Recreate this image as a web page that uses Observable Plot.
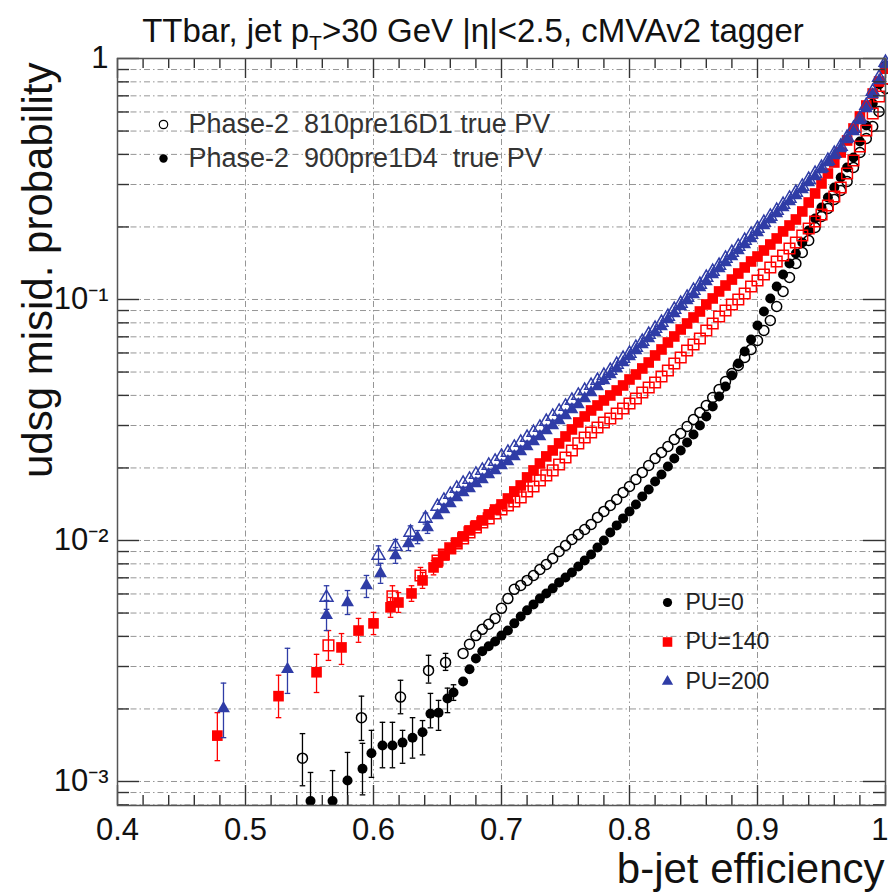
<!DOCTYPE html>
<html><head><meta charset="utf-8">
<script src="https://cdn.jsdelivr.net/npm/d3@7"></script>
<script src="https://cdn.jsdelivr.net/npm/@observablehq/plot@0.6"></script>
<style>html,body{margin:0;padding:0;background:#fff}svg{display:block}</style>
</head><body><div id="chart"></div>
<script>
// ---------- tick values / labels ----------
const xMajor = [0.4, 0.5, 0.6, 0.7, 0.8, 0.9, 1.0];
const xMinor = [0.42,0.44,0.46,0.48,0.52,0.54,0.56,0.58,0.62,0.64,0.66,0.68,0.72,0.74,0.76,0.78,0.82,0.84,0.86,0.88,0.92,0.94,0.96,0.98];
const xGrid = [0.5, 0.6, 0.7, 0.8, 0.9];
const yMajor = [0.001, 0.01, 0.1, 1];
const yMinor = [0.0008,0.0009,0.002,0.003,0.004,0.005,0.006,0.007,0.008,0.009,0.02,0.03,0.04,0.05,0.06,0.07,0.08,0.09,0.2,0.3,0.4,0.5,0.6,0.7,0.8,0.9];
const titleParts = ["TTbar, jet p", "T", ">30 GeV |\u03b7|<2.5, cMVAv2 tagger"];
const xLabel = "b-jet efficiency";
const yLabel = "udsg misid. probability";
const releaseLabels = ["Phase-2\u00a0 810pre16D1 true PV", "Phase-2\u00a0 900pre1D4\u00a0 true PV"];
const pileupLabels = ["PU=0", "PU=140", "PU=200"];

// ---------- dense part of the curves (b-jet efficiency) ----------
const effA = [0.650,0.655,0.660,0.665,0.670,0.675,0.680,0.685,0.690,0.695,0.700,0.705,0.710,0.715,0.720,0.725,0.730,0.735,0.740,0.745,0.750,0.755,0.760,0.765,0.770,0.775,0.780,0.785,0.790,0.795,0.800,0.805,0.810,0.815,0.820,0.825,0.830,0.835,0.840,0.845,0.850,0.855,0.860,0.865,0.870,0.875,0.880,0.885,0.890,0.895,0.900,0.905,0.910,0.915,0.920,0.925,0.930,0.935,0.940,0.945,0.950,0.955,0.960,0.965,0.970,0.975,0.980,0.985,0.990,0.995,1.000];
const effB = [0.670,0.675,0.680,0.685,0.690,0.695,0.700,0.705,0.710,0.715,0.720,0.725,0.730,0.735,0.740,0.745,0.750,0.755,0.760,0.765,0.770,0.775,0.780,0.785,0.790,0.795,0.800,0.805,0.810,0.815,0.820,0.825,0.830,0.835,0.840,0.845,0.850,0.855,0.860,0.865,0.870,0.875,0.880,0.885,0.890,0.895,0.900,0.905,0.910,0.915,0.920,0.925,0.930,0.935,0.940,0.945,0.950,0.955,0.960,0.965,0.970,0.975,0.980,0.985,0.990,0.995,1.000];

// PU=200 (blue triangles)
const pu200FilledMisid = [0.01271,0.01345,0.01425,0.01509,0.01583,0.01645,0.01725,0.01792,0.01880,0.01953,0.02048,0.02128,0.02233,0.02342,0.02456,0.02576,0.02702,0.02861,0.03001,0.03148,0.03303,0.03497,0.03668,0.03885,0.04114,0.04357,0.04613,0.04885,0.05174,0.05478,0.05802,0.06144,0.06507,0.0689,0.07296,0.07728,0.08262,0.08749,0.09354,0.09905,0.1049,0.1122,0.1188,0.1270,0.1345,0.1425,0.1508,0.1597,0.1691,0.1792,0.1897,0.2028,0.2148,0.2275,0.2409,0.2551,0.2702,0.2861,0.3059,0.3239,0.3463,0.3703,0.3959,0.4232,0.4613,0.4979,0.5530,0.6202,0.7090,0.8103,0.9444];
const pu200OpenMisid = [0.01384,0.01466,0.01553,0.01645,0.01725,0.01792,0.01880,0.01953,0.02048,0.02128,0.02233,0.02319,0.02433,0.02552,0.02676,0.02807,0.02945,0.03118,0.03271,0.03431,0.03599,0.03811,0.03998,0.04193,0.04398,0.04613,0.04838,0.05075,0.05375,0.05692,0.05971,0.06323,0.06696,0.07159,0.07582,0.08028,0.08502,0.0909,0.09626,0.1020,0.1090,0.1154,0.1234,0.1306,0.1384,0.1480,0.1567,0.1659,0.1757,0.1862,0.1971,0.2087,0.2211,0.2341,0.2479,0.2626,0.2780,0.2945,0.3148,0.3333,0.3530,0.3774,0.4035,0.4314,0.4702,0.5124,0.5637,0.6382,0.7295,0.8342,0.9626];
// PU=140 (red squares)
const pu140FilledMisid = [0.0081,0.00867,0.00927,0.00981,0.0104,0.01101,0.01155,0.01211,0.01283,0.01345,0.01411,0.01494,0.01598,0.01692,0.01827,0.01953,0.02087,0.02233,0.02364,0.02528,0.02702,0.02889,0.03089,0.03271,0.03464,0.03633,0.03811,0.03998,0.04193,0.04398,0.04657,0.04885,0.05174,0.05478,0.05858,0.06204,0.06632,0.07024,0.0751,0.07952,0.08421,0.08918,0.09535,0.101,0.108,0.1143,0.121,0.1282,0.1358,0.1438,0.1508,0.1597,0.1691,0.1792,0.1916,0.2028,0.2148,0.2319,0.2526,0.2754,0.303,0.3333,0.3703,0.4074,0.4568,0.5124,0.5746,0.6382,0.7157,0.8026,0.909];
const pu140OpenMisid = [0.00826,0.00875,0.00927,0.00972,0.0102,0.0108,0.01133,0.01188,0.01235,0.01295,0.01345,0.01398,0.01452,0.01509,0.01598,0.01676,0.01775,0.01862,0.01953,0.02068,0.02211,0.02364,0.02528,0.02676,0.02807,0.02945,0.03089,0.03209,0.03366,0.03531,0.03704,0.03885,0.04114,0.04315,0.04526,0.04793,0.05075,0.05427,0.05747,0.06144,0.06507,0.0689,0.07437,0.07952,0.08502,0.09003,0.09535,0.1,0.1059,0.1132,0.1199,0.127,0.1358,0.1438,0.1523,0.1628,0.1724,0.1844,0.1971,0.2107,0.2253,0.2455,0.2676,0.2917,0.3333,0.3774,0.4314,0.5027,0.5912,0.6956,0.8262];
// PU=0 (black circles)
const pu0FilledMisid = [0.0026,0.00292,0.00324,0.00347,0.00364,0.00381,0.00403,0.00423,0.00453,0.00484,0.00513,0.00543,0.00574,0.00603,0.00633,0.0067,0.00702,0.00737,0.0078,0.00826,0.00875,0.00935,0.01,0.0108,0.01155,0.01235,0.0132,0.01411,0.01523,0.01629,0.01758,0.0188,0.02029,0.0219,0.02364,0.02552,0.02754,0.03001,0.03271,0.03599,0.0396,0.04357,0.04838,0.05427,0.06086,0.06825,0.07802,0.08918,0.101,0.1132,0.127,0.1411,0.1552,0.1724,0.1934,0.2169,0.2409,0.2651,0.2917,0.3208,0.353,0.3884,0.4525,0.5272,0.6505,0.78,0.9354];
const pu0OpenMisid = [0.0034,0.00371,0.00403,0.00428,0.00449,0.00475,0.00523,0.00574,0.00627,0.00651,0.00683,0.00716,0.00758,0.00795,0.00842,0.009,0.00953,0.0101,0.0106,0.01111,0.01166,0.01247,0.0132,0.01398,0.0148,0.01583,0.01676,0.01792,0.01916,0.02048,0.0219,0.02319,0.02456,0.02626,0.0278,0.02973,0.03179,0.03399,0.03633,0.03922,0.04233,0.04569,0.04932,0.05324,0.05747,0.06204,0.0676,0.07437,0.08183,0.09354,0.108,0.1234,0.1411,0.1567,0.1757,0.199,0.2211,0.2386,0.2601,0.2834,0.3088,0.353,0.4074,0.4657,0.5223,0.6026,0.7507];

// ---------- low-efficiency points with visible error bars ----------
const pu200FilledLowEff = [0.4828,0.5328,0.5633,0.5797,0.5945,0.6055,0.6172,0.6273,0.6344,0.6422];
const pu200FilledLowMisid = [0.00201,0.00292,0.00489,0.00553,0.00651,0.0073,0.00867,0.00972,0.0103,0.01133];
const pu200FilledLowErrLo = [0.00152,0.00232,0.00423,0.00493,0.0058,0.00664,0.00804,0.00908,0.0097,0.0107];
const pu200FilledLowErrHi = [0.00256,0.00357,0.00564,0.0062,0.00716,0.00804,0.00935,0.0104,0.011,0.012];
const pu200OpenLowEff = [0.5633,0.6039,0.6172,0.6289,0.6406];
const pu200OpenLowMisid = [0.0058,0.00867,0.00944,0.0108,0.01235];
const pu200OpenLowErrLo = [0.00518,0.0079,0.0088,0.0101,0.0117];
const pu200OpenLowErrHi = [0.00649,0.0095,0.0101,0.0115,0.013];

const pu140FilledLowEff = [0.478,0.5258,0.5555,0.575,0.5883,0.600,0.6133,0.6195,0.6297,0.6383,0.6469];
const pu140FilledLowMisid = [0.00155,0.00226,0.00284,0.0036,0.00423,0.00453,0.00528,0.00553,0.00603,0.00683,0.00773];
const pu140FilledLowErrLo = [0.00122,0.00184,0.00234,0.00306,0.00378,0.00407,0.0048,0.00503,0.00559,0.00633,0.0072];
const pu140FilledLowErrHi = [0.00193,0.00276,0.00337,0.00411,0.00475,0.00503,0.0058,0.00608,0.00649,0.00737,0.00826];
const pu140OpenLowEff = [0.5648,0.6148,0.6367];
const pu140OpenLowMisid = [0.00367,0.00586,0.00716];
const pu140OpenLowErrLo = [0.00318,0.00528,0.00664];
const pu140OpenLowErrHi = [0.00423,0.00649,0.00773];

const pu0FilledLowEff = [0.5508,0.568,0.5797,0.5914,0.5984,0.607,0.6148,0.6227,0.6305,0.6383,0.6445,0.6508,0.6578,0.6625];
const pu0FilledLowMisid = [0.00083,0.00083,0.00101,0.00113,0.00131,0.00141,0.00141,0.00145,0.00152,0.0016,0.00191,0.00193,0.00221,0.00234];
const pu0FilledLowErrLo = [0.0006,0.0006,0.00077,0.00088,0.00104,0.00114,0.00114,0.00119,0.00125,0.00129,0.00167,0.00163,0.00193,0.00217];
const pu0FilledLowErrHi = [0.00109,0.00111,0.00132,0.00144,0.00163,0.00176,0.00176,0.00163,0.00184,0.00179,0.00232,0.00217,0.00244,0.00252];
const pu0OpenLowEff = [0.5445,0.5906,0.6211,0.643,0.6563];
const pu0OpenLowMisid = [0.00125,0.00184,0.00224,0.00289,0.00312];
const pu0OpenLowErrLo = [0.00096,0.00148,0.00191,0.00256,0.00289];
const pu0OpenLowErrHi = [0.00158,0.00226,0.00263,0.00334,0.0034];

// ---------- build tables ----------
function table(eff, misid, lo, hi) {
  return eff.map((e, i) => ({eff: e, misid: misid[i], lo: lo ? lo[i] : null, hi: hi ? hi[i] : null}));
}
const BLACK = "#000000", RED = "#ff0000", BLUE = "#2f3ca6";
const series = [
  {color: BLACK, symbol: "circle", filled: false, r: 5,
   low: table(pu0OpenLowEff, pu0OpenLowMisid, pu0OpenLowErrLo, pu0OpenLowErrHi), dense: table(effB, pu0OpenMisid)},
  {color: BLACK, symbol: "circle", filled: true, r: 5,
   low: table(pu0FilledLowEff, pu0FilledLowMisid, pu0FilledLowErrLo, pu0FilledLowErrHi), dense: table(effB, pu0FilledMisid)},
  {color: RED, symbol: "square", filled: false, r: 6,
   low: table(pu140OpenLowEff, pu140OpenLowMisid, pu140OpenLowErrLo, pu140OpenLowErrHi), dense: table(effA, pu140OpenMisid)},
  {color: RED, symbol: "square", filled: true, r: 6,
   low: table(pu140FilledLowEff, pu140FilledLowMisid, pu140FilledLowErrLo, pu140FilledLowErrHi), dense: table(effA, pu140FilledMisid)},
  {color: BLUE, symbol: "triangle", filled: false, r: 4.8,
   low: table(pu200OpenLowEff, pu200OpenLowMisid, pu200OpenLowErrLo, pu200OpenLowErrHi), dense: table(effA, pu200OpenMisid)},
  {color: BLUE, symbol: "triangle", filled: true, r: 4.8,
   low: table(pu200FilledLowEff, pu200FilledLowMisid, pu200FilledLowErrLo, pu200FilledLowErrHi), dense: table(effA, pu200FilledMisid)}
];

const capSymbol = {draw(ctx, size) { const w = Math.sqrt(size / Math.PI); ctx.moveTo(-w, 0); ctx.lineTo(w, 0); }};

const W = 888, H = 892, mT = 58, mR = 3, mB = 87, mL = 117;
const fw = W - mL - mR, fh = H - mT - mB;
const FONT = "'Liberation Sans', Arial, Helvetica, sans-serif";
const GRID = {stroke: "#8a8a8a", strokeOpacity: 1, strokeWidth: 0.9, strokeDasharray: "6,3,1.5,3"};
const TICK = {stroke: "#333", strokeWidth: 1.4};

const supMap = {"-": "\u207b", "0": "\u2070", "1": "\u00b9", "2": "\u00b2", "3": "\u00b3"};
const yFmt = d => d === 1 ? "1" : "10" + String(Math.round(Math.log10(d))).split("").map(c => supMap[c]).join("");
const xFmt = d => d === 1 ? "1" : d.toFixed(1);

const marks = [
  Plot.gridY(yMinor.concat(yMajor), GRID),
  Plot.gridX(xGrid, GRID)
];
for (const s of series) {
  const errs = s.low;
  marks.push(Plot.ruleX(errs, {x: "eff", y1: "lo", y2: "hi", stroke: s.color, strokeWidth: 1.3, clip: true}));
  marks.push(Plot.dot(errs, {x: "eff", y: "lo", symbol: capSymbol, r: 2.8, stroke: s.color, fill: "none", strokeWidth: 1.3, clip: true}));
  marks.push(Plot.dot(errs, {x: "eff", y: "hi", symbol: capSymbol, r: 2.8, stroke: s.color, fill: "none", strokeWidth: 1.3, clip: true}));
  const all = s.low.concat(s.dense);
  marks.push(Plot.dot(all, s.filled
    ? {x: "eff", y: "misid", symbol: s.symbol, r: s.r, fill: s.color, stroke: "none"}
    : {x: "eff", y: "misid", symbol: s.symbol, r: s.r, fill: "none", stroke: s.color, strokeWidth: 1.5}));
}
// inward ticks on all four sides
marks.push(
  Plot.tickX(xMajor, {x: d => d, insetTop: fh - 20, ...TICK}),
  Plot.tickX(xMinor, {x: d => d, insetTop: fh - 10, ...TICK}),
  Plot.tickX(xMajor, {x: d => d, insetBottom: fh - 20, ...TICK}),
  Plot.tickX(xMinor, {x: d => d, insetBottom: fh - 10, ...TICK}),
  Plot.tickY(yMajor, {y: d => d, insetRight: fw - 22, ...TICK}),
  Plot.tickY(yMinor, {y: d => d, insetRight: fw - 12, ...TICK}),
  Plot.tickY(yMajor, {y: d => d, insetLeft: fw - 22, ...TICK}),
  Plot.tickY(yMinor, {y: d => d, insetLeft: fw - 12, ...TICK}),
  Plot.frame({stroke: "#555", strokeWidth: 1.5}),
  Plot.axisX(xMajor.slice(0, -1), {tickSize: 0, tickPadding: 12, fontSize: 31, tickFormat: xFmt, label: null, fill: "#111"}),
  Plot.axisX([1.0], {tickSize: 0, tickPadding: 12, fontSize: 31, tickFormat: xFmt, label: null, fill: "#111", textAnchor: "end", dx: 3}),
  Plot.axisY(yMajor, {tickSize: 0, tickPadding: 9, fontSize: 31, tickFormat: yFmt, label: null, fill: "#111"}),
  Plot.text([xLabel], {frameAnchor: "bottom-right", dx: -1, dy: 77, textAnchor: "end", lineAnchor: "bottom", fontSize: 42, fill: "#111"}),
  Plot.text([yLabel], {frameAnchor: "top-left", dx: -66, dy: 4, rotate: -90, textAnchor: "end", lineAnchor: "bottom", fontSize: 42, fill: "#111"})
);
// release legend (top-left)
const relStyle = [{symbol: "circle", fill: "none", stroke: "#000", strokeWidth: 1.2}, {symbol: "circle", fill: "#000", stroke: "none"}];
releaseLabels.forEach((lab, i) => {
  marks.push(Plot.dot([lab], {frameAnchor: "top-left", dx: 46, dy: 66 + 34 * i, r: 4.2, ...relStyle[i]}));
  marks.push(Plot.text([lab], {frameAnchor: "top-left", dx: 71, dy: 66 + 34 * i, textAnchor: "start", lineAnchor: "middle", fontSize: 27, fill: "#333"}));
});
// pileup legend (bottom-right)
const puStyle = [{symbol: "circle", fill: BLACK, r: 4.6}, {symbol: "square", fill: RED, r: 5.4}, {symbol: "triangle", fill: BLUE, r: 4.2}];
pileupLabels.forEach((lab, i) => {
  marks.push(Plot.dot([lab], {frameAnchor: "top-left", dx: 550, dy: 544 + 39.5 * i, stroke: "none", ...puStyle[i]}));
  marks.push(Plot.text([lab], {frameAnchor: "top-left", dx: 568, dy: 544 + 39.5 * i, textAnchor: "start", lineAnchor: "middle", fontSize: 23, fill: "#222"}));
});

const chart = Plot.plot({
  width: W, height: H,
  marginTop: mT, marginRight: mR, marginBottom: mB, marginLeft: mL,
  style: {fontFamily: FONT, background: "#fff", overflow: "hidden"},
  x: {type: "linear", domain: [0.4, 1.0]},
  y: {type: "log", domain: [0.000795, 1]},
  marks
});

// title with subscript T
const svg = d3.select(chart);
const t = svg.append("text")
  .attr("x", 473).attr("y", 42)
  .attr("text-anchor", "middle")
  .attr("font-family", FONT).attr("font-size", 33).attr("fill", "#111");
t.append("tspan").text(titleParts[0]);
t.append("tspan").attr("font-size", 21).attr("dy", 8).text(titleParts[1]);
t.append("tspan").attr("dy", -8).text(titleParts[2]);

document.getElementById("chart").append(chart);
</script>
</body></html>
